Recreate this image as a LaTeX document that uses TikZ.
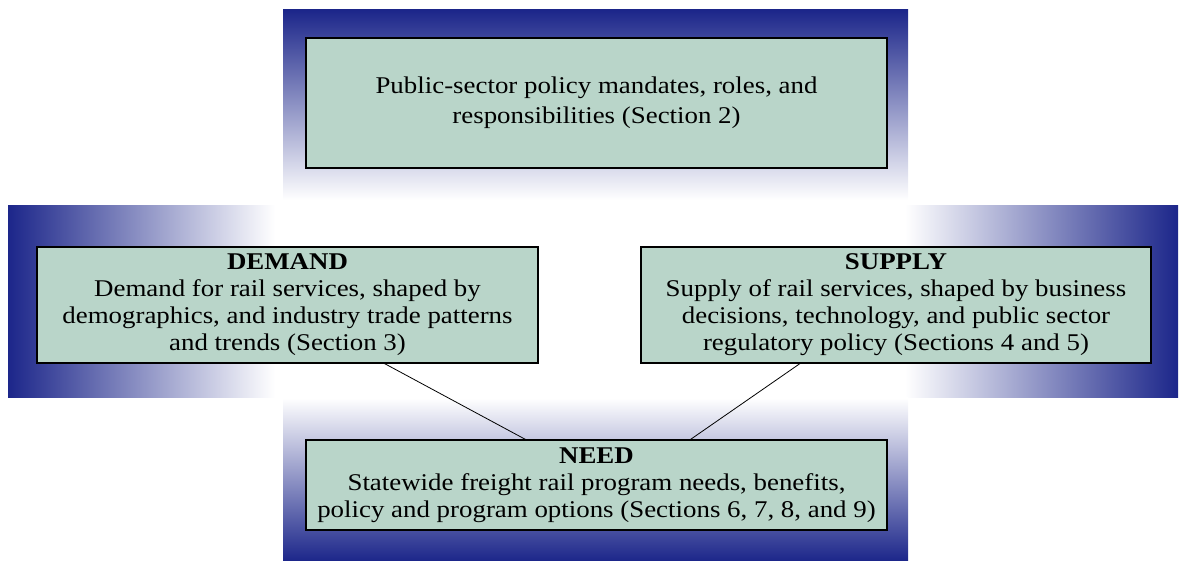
\documentclass[tikz,border=0pt]{standalone}
\usepackage{fontspec}
\setmainfont{Liberation Serif}[FakeStretch=1.12]
\usepackage{xcolor}
\usepackage{tikz}
\usetikzlibrary{positioning}

\definecolor{railblue}{RGB}{28,38,138}
\definecolor{boxgreen}{RGB}{185,213,201}

\tikzset{
  sectionbox/.style={draw, line width=1.1pt, fill=boxgreen, align=center, inner sep=0pt,
    font=\fontsize{24}{27}\selectfont},
}

\begin{document}
\begin{tikzpicture}[x=1pt, y=-1pt]

\useasboundingbox (0,0) rectangle (1179,561);

% shaded bands behind the boxes

\shade [top color=railblue, bottom color=white] (283,10) rectangle (908,200);
\shade [left color=railblue, right color=white] (8,206) rectangle (275,398);
\shade [left color=white, right color=railblue] (905,206) rectangle (1178,398);
\shade [top color=white, bottom color=railblue] (283,398) rectangle (908,561);

% policy

\node [sectionbox, minimum width=581pt, minimum height=130pt] at (596.5, 103) (policy) {Public-sector policy mandates, roles, and \\[3pt] responsibilities (Section 2)};

% demand, supply

\node [sectionbox, minimum width=501pt, minimum height=116pt] at (287.5, 305) (demand) {\textbf{DEMAND} \\ Demand for rail services, shaped by \\ demographics, and industry trade patterns \\ and trends (Section 3)};
\node [sectionbox, minimum width=510pt, minimum height=116pt] at (896, 305) (supply) {\textbf{SUPPLY} \\ Supply of rail services, shaped by business \\ decisions, technology, and public sector \\ regulatory policy (Sections 4 and 5)};

% need

\node [sectionbox, minimum width=581pt, minimum height=90pt] at (596.5, 485) (need) {\textbf{NEED} \\ Statewide freight rail program needs, benefits, \\ policy and program options (Sections 6, 7, 8, and 9)};

\path [draw, line width=0.8pt] ([xshift=97pt]demand.south) to ([xshift=-71pt]need.north);
\path [draw, line width=0.8pt] ([xshift=-96pt]supply.south) to ([xshift=94pt]need.north);

\end{tikzpicture}
\end{document}
